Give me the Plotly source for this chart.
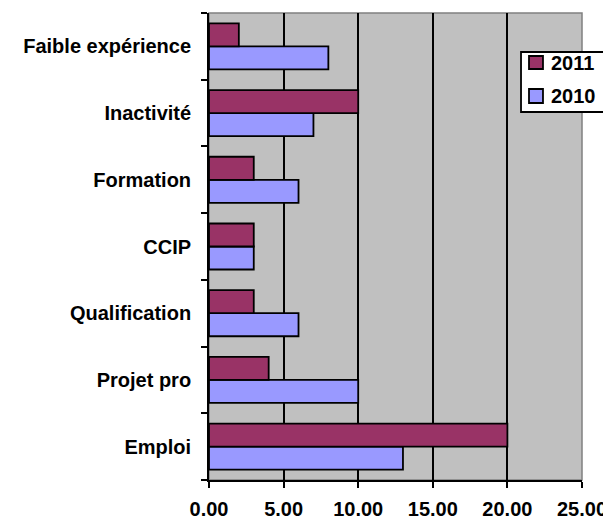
import plotly.graph_objects as go

categories = ["Emploi", "Projet pro", "Qualification", "CCIP", "Formation", "Inactivité", "Faible expérience"]
values_2010 = [13, 10, 6, 3, 6, 7, 8]
values_2011 = [20, 4, 3, 3, 3, 10, 2]
series_names = ["2011", "2010"]
series_colors = ["#993366", "#9999FF"]
x_ticks = [0, 5, 10, 15, 20, 25]
x_tick_labels = ["0.00", "5.00", "10.00", "15.00", "20.00", "25.00"]

FONT = "Arial, 'Liberation Sans', sans-serif"
FS = 20

fig = go.Figure()
fig.add_trace(go.Bar(
    y=categories, x=values_2010, orientation="h", name=series_names[1], showlegend=False,
    marker=dict(color=series_colors[1], line=dict(color="black", width=1.8)),
))
fig.add_trace(go.Bar(
    y=categories, x=values_2011, orientation="h", name=series_names[0], showlegend=False,
    marker=dict(color=series_colors[0], line=dict(color="black", width=1.8)),
))

# Legend box drawn in paper coordinates (Excel-style legend overlapping plot edge)
shapes = [
    dict(type="rect", xref="paper", yref="paper", x0=0, x1=1, y0=0, y1=1,
         line=dict(color="#808080", width=1.5), layer="below"),
    dict(type="rect", xref="paper", yref="paper", x0=0.8365, x1=1.0617, y0=0.788, y1=0.9165,
         fillcolor="white", line=dict(color="black", width=1.8), layer="above"),
]
annotations = []
legend_rows = [(0.9079, 0.8801, 0.8929), (0.8373, 0.8073, 0.8223)]
for name, color, (ytop, ybot, ytxt) in zip(series_names, series_colors, legend_rows):
    shapes.append(dict(type="rect", xref="paper", yref="paper", x0=0.8579, x1=0.8954,
                       y0=ybot, y1=ytop, fillcolor=color,
                       line=dict(color="black", width=1.8), layer="above"))
    annotations.append(dict(xref="paper", yref="paper", x=0.9115, y=ytxt, text=name,
                            showarrow=False, xanchor="left", yanchor="middle",
                            font=dict(family=FONT, size=FS, color="black", weight="bold")))

# page body has an 8px margin, so the figure is sized/offset to compensate
fig.update_layout(
    width=603, height=511,
    margin=dict(l=201, r=29, t=5, b=39, autoexpand=False),
    paper_bgcolor="white",
    plot_bgcolor="#C0C0C0",
    barmode="group",
    bargap=0.31,
    bargroupgap=0,
    font=dict(family=FONT, size=FS, color="black"),
    showlegend=False,
    xaxis=dict(
        range=[0, 25], tickvals=x_ticks, ticktext=x_tick_labels,
        showgrid=True, gridcolor="black", gridwidth=1.8,
        showline=True, linecolor="black", linewidth=1.8,
        ticks="outside", ticklen=6, tickwidth=1.8, tickcolor="black",
        tickfont=dict(family=FONT, size=FS, color="black", weight="bold"),
        ticklabelstandoff=4,
        zeroline=False, fixedrange=True, automargin=False,
    ),
    yaxis=dict(
        type="category", categoryorder="array", categoryarray=categories,
        showgrid=False,
        showline=True, linecolor="black", linewidth=1.8,
        ticks="outside", tickson="boundaries", ticklen=6, tickwidth=1.8, tickcolor="black",
        tickfont=dict(family=FONT, size=FS, color="black", weight="bold"),
        ticklabelstandoff=12,
        fixedrange=True, automargin=False,
    ),
    shapes=shapes,
    annotations=annotations,
)

fig.write_html("out.html")
